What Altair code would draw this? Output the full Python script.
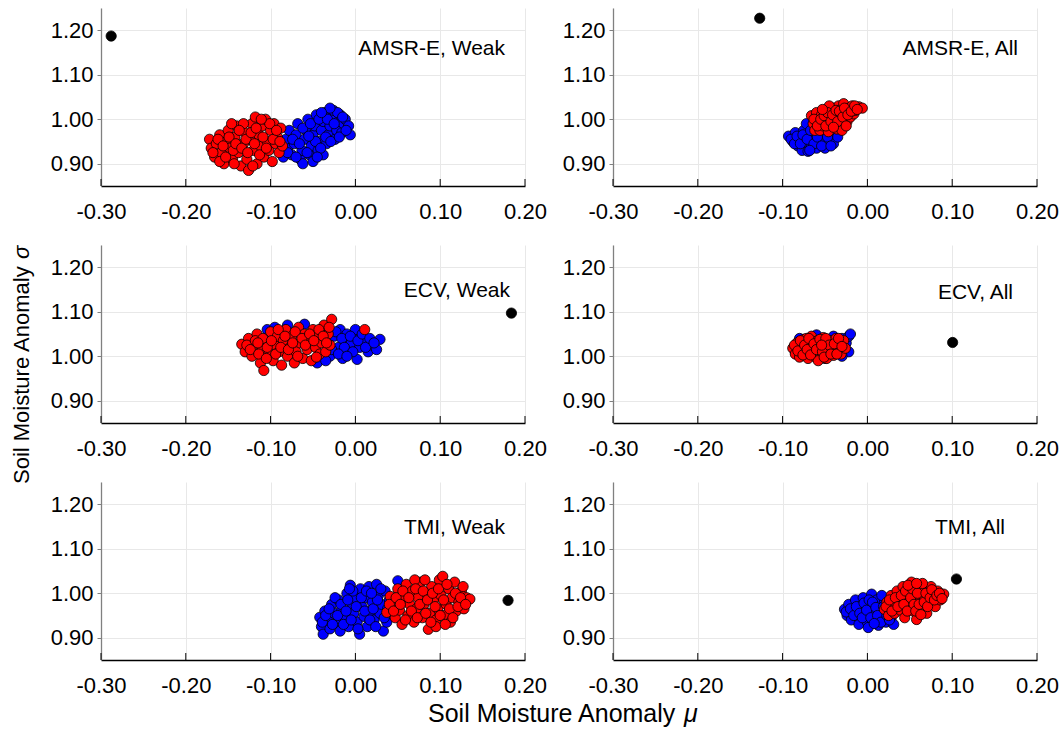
import altair as alt
import pandas as pd

PANELS = ["AMSR-E, Weak", "AMSR-E, All", "ECV, Weak", "ECV, All", "TMI, Weak", "TMI, All"]
X_TICKS = [-0.3, -0.2, -0.1, 0.0, 0.1, 0.2]
Y_TICKS = [0.9, 1.0, 1.1, 1.2]

# (mu, sigma) pairs for each ensemble cloud
amsr_weak_blue = [
    (-0.085, 0.915), (-0.080, 0.935), (-0.082, 0.955), (-0.078, 0.975), (-0.075, 0.920),
    (-0.072, 0.945), (-0.070, 0.965), (-0.068, 0.990), (-0.065, 0.910), (-0.063, 0.930),
    (-0.060, 0.955), (-0.058, 0.975), (-0.056, 1.000), (-0.054, 0.920), (-0.052, 0.940),
    (-0.050, 0.965), (-0.048, 0.985), (-0.046, 1.010), (-0.044, 0.930), (-0.042, 0.950),
    (-0.040, 0.975), (-0.038, 0.995), (-0.036, 1.015), (-0.034, 0.945), (-0.032, 0.965),
    (-0.030, 0.985), (-0.028, 1.005), (-0.026, 1.020), (-0.024, 0.955), (-0.022, 0.975),
    (-0.020, 0.995), (-0.018, 1.010), (-0.016, 0.970), (-0.014, 0.990), (-0.012, 1.000),
    (-0.008, 0.985), (-0.006, 0.965), (-0.062, 0.900), (-0.050, 0.905), (-0.038, 0.920),
    (-0.080, 0.925), (-0.074, 0.955), (-0.066, 0.945), (-0.062, 0.980), (-0.057, 0.925),
    (-0.053, 0.990), (-0.047, 0.950), (-0.043, 1.000), (-0.041, 0.935), (-0.035, 0.960),
    (-0.033, 1.000), (-0.029, 0.950), (-0.025, 0.990), (-0.021, 1.015), (-0.019, 0.960),
    (-0.015, 1.005), (-0.011, 0.975), (-0.045, 0.915), (-0.055, 0.962), (-0.070, 0.915),
    (-0.030, 1.025), (-0.040, 1.015),
]
amsr_weak_red = [
    (-0.172, 0.955), (-0.170, 0.935), (-0.166, 0.915), (-0.164, 0.945), (-0.160, 0.965),
    (-0.158, 0.925), (-0.155, 0.900), (-0.152, 0.950), (-0.150, 0.975), (-0.148, 0.935),
    (-0.145, 0.910), (-0.142, 0.960), (-0.140, 0.985), (-0.138, 0.925), (-0.135, 0.895),
    (-0.132, 0.945), (-0.130, 0.970), (-0.128, 0.910), (-0.126, 0.885), (-0.124, 0.955),
    (-0.122, 0.990), (-0.120, 0.930), (-0.118, 1.005), (-0.116, 0.900), (-0.114, 0.965),
    (-0.112, 0.940), (-0.110, 0.985), (-0.108, 0.915), (-0.106, 1.000), (-0.104, 0.950),
    (-0.102, 0.930), (-0.100, 0.975), (-0.098, 0.905), (-0.096, 0.990), (-0.094, 0.945),
    (-0.092, 0.960), (-0.090, 0.925), (-0.088, 0.980), (-0.086, 0.940), (-0.132, 0.990),
    (-0.146, 0.990), (-0.160, 0.905), (-0.168, 0.925), (-0.162, 0.955), (-0.156, 0.940),
    (-0.153, 0.915), (-0.149, 0.960), (-0.144, 0.930), (-0.141, 0.945), (-0.137, 0.975),
    (-0.134, 0.935), (-0.129, 0.955), (-0.127, 0.925), (-0.123, 0.970), (-0.119, 0.945),
    (-0.117, 0.980), (-0.113, 0.920), (-0.109, 0.960), (-0.105, 0.935), (-0.101, 0.990),
    (-0.097, 0.955), (-0.093, 0.975), (-0.089, 0.950), (-0.121, 0.895), (-0.111, 1.000),
    (-0.143, 0.900),
]
amsr_weak_black = [(-0.288, 1.187)]

amsr_all_blue = [
    (-0.093, 0.962), (-0.088, 0.950), (-0.085, 0.970), (-0.082, 0.940), (-0.080, 0.958),
    (-0.077, 0.930), (-0.075, 0.975), (-0.073, 0.948), (-0.070, 0.928), (-0.068, 0.965),
    (-0.066, 0.940), (-0.064, 0.985), (-0.062, 0.955), (-0.060, 0.935), (-0.058, 0.970),
    (-0.055, 0.945), (-0.052, 0.960), (-0.050, 0.935), (-0.048, 0.975), (-0.045, 0.950),
    (-0.042, 0.965), (-0.040, 0.945), (-0.038, 0.980), (-0.035, 0.960), (-0.072, 0.990),
    (-0.090, 0.955), (-0.086, 0.945), (-0.083, 0.962), (-0.079, 0.945), (-0.076, 0.965),
    (-0.071, 0.955), (-0.067, 0.975), (-0.063, 0.945), (-0.059, 0.960), (-0.056, 0.982),
    (-0.054, 0.940), (-0.047, 0.960), (-0.043, 0.940), (-0.068, 0.930),
]
amsr_all_red = [
    (-0.066, 1.008), (-0.064, 0.990), (-0.062, 0.975), (-0.060, 1.015), (-0.058, 0.995),
    (-0.056, 0.975), (-0.054, 1.010), (-0.052, 0.985), (-0.050, 1.020), (-0.048, 0.998),
    (-0.046, 0.972), (-0.044, 1.012), (-0.042, 0.988), (-0.040, 1.025), (-0.038, 1.000),
    (-0.036, 0.978), (-0.034, 1.030), (-0.032, 1.010), (-0.030, 0.990), (-0.028, 1.035),
    (-0.026, 1.015), (-0.024, 0.995), (-0.022, 1.025), (-0.020, 1.005), (-0.018, 1.030),
    (-0.016, 1.012), (-0.014, 1.020), (-0.010, 1.028), (-0.006, 1.025), (-0.030, 0.975),
    (-0.045, 1.030), (-0.063, 1.000), (-0.059, 0.985), (-0.055, 1.000), (-0.051, 1.008),
    (-0.049, 0.985), (-0.047, 1.015), (-0.043, 0.995), (-0.041, 1.010), (-0.037, 1.020),
    (-0.035, 0.995), (-0.033, 1.018), (-0.029, 1.005), (-0.027, 1.025), (-0.023, 1.010),
    (-0.019, 1.018), (-0.015, 1.030), (-0.012, 1.022), (-0.040, 0.982), (-0.025, 0.985),
    (-0.053, 1.022),
]
amsr_all_black = [(-0.127, 1.227)]

ecv_weak_blue = [
    (-0.104, 1.060), (-0.095, 1.065), (-0.080, 1.070), (-0.060, 1.072), (-0.040, 1.060),
    (-0.030, 1.000), (-0.025, 1.045), (-0.020, 1.020), (-0.018, 1.060), (-0.015, 0.995),
    (-0.012, 1.035), (-0.010, 1.050), (-0.008, 1.010), (-0.005, 1.030), (0.000, 1.045),
    (0.002, 0.993), (0.005, 1.020), (0.010, 1.035), (0.015, 1.010), (0.020, 1.025),
    (0.029, 1.038), (-0.045, 0.985), (-0.035, 0.990), (0.000, 1.060), (0.025, 1.015),
    (-0.028, 1.015), (-0.023, 1.055), (-0.016, 1.040), (-0.013, 1.020), (-0.006, 1.045),
    (-0.003, 1.010), (0.003, 1.035), (0.008, 1.050), (0.012, 1.020), (0.017, 1.040),
    (0.022, 1.030), (-0.020, 1.005), (-0.010, 1.000),
]
ecv_weak_red = [
    (-0.134, 1.027), (-0.130, 1.010), (-0.126, 1.040), (-0.122, 1.000), (-0.120, 1.025),
    (-0.116, 1.050), (-0.112, 0.985), (-0.110, 1.015), (-0.108, 0.968), (-0.106, 1.035),
    (-0.102, 1.005), (-0.100, 1.055), (-0.097, 0.990), (-0.095, 1.025), (-0.092, 1.045),
    (-0.090, 1.010), (-0.087, 0.980), (-0.085, 1.035), (-0.082, 1.060), (-0.080, 1.000),
    (-0.077, 1.020), (-0.075, 1.045), (-0.072, 0.985), (-0.070, 1.010), (-0.067, 1.065),
    (-0.065, 1.030), (-0.062, 0.995), (-0.060, 1.050), (-0.057, 1.015), (-0.055, 1.035),
    (-0.052, 0.990), (-0.050, 1.060), (-0.047, 1.020), (-0.045, 1.045), (-0.042, 1.005),
    (-0.040, 1.030), (-0.037, 1.070), (-0.035, 1.010), (-0.032, 1.050), (-0.028, 1.083),
    (-0.030, 1.025), (0.011, 1.060), (-0.128, 1.025), (-0.124, 1.015), (-0.118, 1.035),
    (-0.114, 1.005), (-0.109, 1.040), (-0.104, 1.020), (-0.099, 1.035), (-0.094, 1.005),
    (-0.091, 1.060), (-0.088, 1.020), (-0.083, 1.045), (-0.079, 1.015), (-0.074, 1.030),
    (-0.071, 1.055), (-0.068, 1.000), (-0.063, 1.040), (-0.059, 1.025), (-0.054, 1.050),
    (-0.049, 1.035), (-0.046, 0.998), (-0.043, 1.060), (-0.038, 1.045), (-0.034, 1.030),
    (-0.031, 1.065), (-0.105, 0.995), (-0.115, 1.030),
]
ecv_weak_black = [(0.184, 1.097)]

ecv_all_blue = [
    (-0.080, 1.040), (-0.060, 1.048), (-0.040, 1.045), (-0.030, 1.040), (-0.025, 1.030),
    (-0.022, 1.045), (-0.020, 1.050), (-0.022, 1.010), (-0.030, 1.000), (-0.050, 0.995),
    (-0.070, 1.000), (-0.085, 1.010),
]
ecv_all_red = [
    (-0.088, 1.018), (-0.085, 1.005), (-0.083, 1.030), (-0.080, 0.998), (-0.078, 1.020),
    (-0.075, 1.038), (-0.073, 1.008), (-0.070, 0.995), (-0.068, 1.028), (-0.066, 1.045),
    (-0.064, 1.012), (-0.061, 0.998), (-0.059, 1.035), (-0.057, 1.020), (-0.055, 1.003),
    (-0.052, 1.042), (-0.050, 1.025), (-0.048, 0.995), (-0.046, 1.012), (-0.044, 1.035),
    (-0.042, 1.020), (-0.040, 1.002), (-0.037, 1.040), (-0.035, 1.015), (-0.033, 1.028),
    (-0.031, 1.005), (-0.028, 1.035), (-0.026, 1.018), (-0.058, 0.990), (-0.072, 1.040),
    (-0.086, 1.025), (-0.082, 1.012), (-0.079, 1.035), (-0.076, 1.003), (-0.074, 1.025),
    (-0.071, 1.015), (-0.069, 1.040), (-0.067, 1.003), (-0.063, 1.028), (-0.060, 1.015),
    (-0.056, 1.038), (-0.053, 1.010), (-0.051, 0.998), (-0.049, 1.040), (-0.045, 1.025),
    (-0.043, 1.005), (-0.039, 1.028), (-0.036, 1.005), (-0.034, 1.040), (-0.030, 1.022),
    (-0.054, 1.025),
]
ecv_all_black = [(0.1005, 1.031)]

tmi_weak_blue = [
    (-0.042, 0.946), (-0.040, 0.925), (-0.038, 0.908), (-0.036, 0.960), (-0.033, 0.940),
    (-0.030, 0.920), (-0.028, 0.975), (-0.025, 0.955), (-0.022, 0.935), (-0.020, 0.985),
    (-0.018, 0.915), (-0.016, 0.965), (-0.013, 0.945), (-0.010, 1.000), (-0.008, 0.925),
    (-0.006, 1.018), (-0.004, 0.975), (-0.002, 0.955), (0.000, 0.990), (0.002, 0.935),
    (0.005, 0.908), (0.006, 1.010), (0.008, 0.970), (0.010, 0.948), (0.012, 0.990),
    (0.014, 0.925), (0.016, 1.015), (0.018, 0.960), (0.020, 0.980), (0.022, 0.940),
    (0.025, 1.020), (0.027, 0.995), (0.029, 0.955), (0.031, 0.975), (0.033, 0.915),
    (0.035, 1.005), (0.037, 0.935), (0.040, 0.985), (0.050, 1.028), (0.045, 0.950),
    (-0.039, 0.935), (-0.035, 0.950), (-0.031, 0.965), (-0.027, 0.930), (-0.024, 0.990),
    (-0.021, 0.950), (-0.017, 0.975), (-0.014, 0.930), (-0.011, 0.960), (-0.009, 0.985),
    (-0.005, 0.940), (-0.003, 1.005), (0.001, 0.970), (0.003, 0.920), (0.007, 0.990),
    (0.011, 0.960), (0.013, 1.005), (0.017, 0.940), (0.021, 0.965), (0.024, 0.925),
    (0.026, 0.985), (0.030, 1.010), (0.034, 0.945), (0.038, 0.965), (-0.007, 1.010),
    (0.019, 1.000),
]
tmi_weak_red = [
    (0.037, 0.957), (0.041, 0.993), (0.044, 0.975), (0.047, 0.945), (0.050, 1.010),
    (0.052, 0.962), (0.055, 0.930), (0.057, 0.990), (0.060, 1.020), (0.062, 0.950),
    (0.064, 0.975), (0.067, 1.005), (0.069, 0.935), (0.072, 0.965), (0.074, 0.990),
    (0.077, 1.025), (0.079, 0.945), (0.081, 0.975), (0.084, 1.000), (0.086, 0.919),
    (0.088, 0.955), (0.090, 1.015), (0.092, 0.985), (0.095, 0.940), (0.097, 0.965),
    (0.099, 1.030), (0.101, 0.995), (0.103, 1.038), (0.105, 0.950), (0.107, 0.975),
    (0.110, 1.010), (0.112, 0.935), (0.114, 0.990), (0.117, 1.025), (0.119, 0.960),
    (0.122, 0.980), (0.125, 1.005), (0.128, 0.965), (0.131, 0.990), (0.135, 0.987),
    (0.070, 1.030), (0.095, 0.925), (0.040, 0.975), (0.045, 0.960), (0.048, 0.990),
    (0.053, 0.975), (0.056, 1.005), (0.059, 0.940), (0.063, 0.990), (0.066, 0.960),
    (0.071, 1.010), (0.073, 0.945), (0.076, 0.975), (0.080, 1.005), (0.083, 0.955),
    (0.085, 0.985), (0.089, 0.935), (0.091, 1.000), (0.094, 0.970), (0.098, 1.010),
    (0.100, 0.950), (0.104, 0.985), (0.108, 1.020), (0.111, 0.965), (0.115, 0.945),
    (0.118, 1.000), (0.121, 0.970), (0.124, 0.990), (0.127, 1.015), (0.130, 0.975),
    (0.082, 1.030), (0.106, 0.930),
]
tmi_weak_black = [(0.180, 0.984)]

tmi_all_blue = [
    (-0.027, 0.964), (-0.024, 0.950), (-0.022, 0.975), (-0.019, 0.940), (-0.017, 0.962),
    (-0.014, 0.985), (-0.012, 0.948), (-0.010, 0.930), (-0.008, 0.970), (-0.005, 0.990),
    (-0.003, 0.955), (0.000, 0.935), (0.001, 0.923), (0.003, 0.975), (0.005, 0.998),
    (0.007, 0.960), (0.009, 0.942), (0.011, 0.985), (0.013, 0.928), (0.015, 0.965),
    (0.018, 0.950), (0.020, 0.980), (0.022, 0.935), (0.025, 0.960), (0.028, 0.945),
    (0.031, 0.930), (0.017, 0.995), (-0.025, 0.958), (-0.020, 0.965), (-0.016, 0.950),
    (-0.013, 0.970), (-0.009, 0.955), (-0.006, 0.945), (-0.004, 0.978), (-0.001, 0.962),
    (0.002, 0.985), (0.004, 0.945), (0.006, 0.980), (0.010, 0.968), (0.012, 0.950),
    (0.016, 0.935), (0.019, 0.970), (0.023, 0.950), (0.026, 0.940), (0.008, 0.932),
]
tmi_all_red = [
    (0.020, 0.964), (0.023, 0.980), (0.025, 0.950), (0.028, 0.995), (0.030, 0.970),
    (0.032, 0.955), (0.035, 1.005), (0.037, 0.985), (0.039, 0.962), (0.042, 1.015),
    (0.044, 0.945), (0.046, 0.995), (0.048, 0.975), (0.050, 1.020), (0.052, 1.025),
    (0.054, 0.960), (0.056, 1.005), (0.058, 0.941), (0.060, 0.985), (0.062, 1.015),
    (0.064, 0.968), (0.066, 0.995), (0.068, 1.010), (0.070, 0.955), (0.072, 0.980),
    (0.075, 1.015), (0.077, 0.995), (0.080, 0.970), (0.083, 1.005), (0.086, 0.985),
    (0.090, 0.998), (0.065, 1.022), (0.022, 0.970), (0.026, 0.985), (0.029, 0.960),
    (0.033, 0.990), (0.036, 0.970), (0.040, 0.995), (0.043, 0.975), (0.045, 1.005),
    (0.047, 0.960), (0.051, 0.990), (0.053, 1.010), (0.055, 0.975), (0.057, 0.960),
    (0.059, 1.000), (0.061, 0.975), (0.063, 0.952), (0.067, 0.980), (0.069, 1.000),
    (0.071, 0.970), (0.074, 0.990), (0.076, 1.008), (0.079, 0.985), (0.082, 0.995),
    (0.085, 1.000), (0.088, 0.988), (0.048, 1.018), (0.058, 1.022),
]
tmi_all_black = [(0.105, 1.032)]

SERIES = {
    "AMSR-E, Weak": (amsr_weak_blue, amsr_weak_red, amsr_weak_black),
    "AMSR-E, All": (amsr_all_blue, amsr_all_red, amsr_all_black),
    "ECV, Weak": (ecv_weak_blue, ecv_weak_red, ecv_weak_black),
    "ECV, All": (ecv_all_blue, ecv_all_red, ecv_all_black),
    "TMI, Weak": (tmi_weak_blue, tmi_weak_red, tmi_weak_black),
    "TMI, All": (tmi_all_blue, tmi_all_red, tmi_all_black),
}

rows = []
for name, groups in SERIES.items():
    for group, pts in zip(["blue", "red", "black"], groups):
        for mu, sigma in pts:
            rows.append({"panel": name, "group": group, "mu": mu, "sigma": sigma})
df = pd.DataFrame(rows)

# panel label anchor (right edge, vertical centre) in pixels inside each plot
LABEL_POS = {
    "AMSR-E, Weak": (404, 41), "AMSR-E, All": (405, 41),
    "ECV, Weak": (409, 46), "ECV, All": (400, 48),
    "TMI, Weak": (404, 46), "TMI, All": (392, 46),
}

W, H = 424, 178
FONT = "Liberation Sans"
X_LABELS = "(datum.value < -1e-9 ? '-' : '') + format(abs(datum.value), '.2f')"
AXIS_NAME = "Soil Moisture Anomaly"


def text_layer(txt, x, y, size, angle=0, italic=False, align="left"):
    kw = dict(align=align, baseline="middle", fontSize=size, font=FONT, color="black")
    if angle:
        kw["angle"] = angle
    if italic:
        kw["fontStyle"] = "italic"
    return alt.Chart(pd.DataFrame({"t": [txt]})).mark_text(**kw).encode(
        x=alt.value(x), y=alt.value(y), text="t:N"
    )


def make_panel(name):
    x_kwargs = dict(values=X_TICKS, labelExpr=X_LABELS, ticks=False, labelPadding=15,
                    labelFlush=False, labelOverlap=False,
                    domainColor="black", domainWidth=1.3, title=None)
    y_kwargs = dict(values=Y_TICKS, format=".2f", tickSize=4, labelPadding=4,
                    labelFlush=False, labelOverlap=False,
                    tickColor="#808080", domainColor="#808080", domainWidth=1.3, title=None)

    xenc = alt.X("mu:Q", scale=alt.Scale(domain=[-0.3, 0.2], nice=False, zero=False),
                 axis=alt.Axis(**x_kwargs))
    yenc = alt.Y("sigma:Q", scale=alt.Scale(domain=[0.85, 1.25], nice=False, zero=False),
                 axis=alt.Axis(**y_kwargs))

    pts = alt.Chart(df[df["panel"] == name]).mark_circle(
        size=105, opacity=1, stroke="black", strokeWidth=0.8
    ).encode(
        x=xenc,
        y=yenc,
        color=alt.Color("group:N", legend=None,
                        scale=alt.Scale(domain=["blue", "red", "black"],
                                        range=["#0000ff", "#ff0000", "#000000"])),
    )

    ticks = alt.Chart(pd.DataFrame({"mu": X_TICKS})).mark_rule(
        color="black", strokeWidth=1
    ).encode(x=xenc, y=alt.value(H), y2=alt.value(H - 7))

    lx, ly = LABEL_POS[name]
    layers = [ticks, pts, text_layer(name, lx, ly, 21, align="right")]

    # shared axis titles, with the symbol set in italics
    if name == "TMI, Weak":
        layers.append(text_layer(AXIS_NAME, 327, 232, 25))
        layers.append(text_layer("μ", 583, 232, 25, italic=True))
    if name == "ECV, Weak":
        layers.append(text_layer(AXIS_NAME, -79, 239, 22, angle=270))
        layers.append(text_layer("σ", -79, 14, 22, angle=270, italic=True))

    return alt.layer(*layers).properties(width=W, height=H)


chart = alt.concat(
    *[make_panel(p) for p in PANELS],
    columns=2,
    spacing={"row": 59, "column": 88},
    bounds="flush",
).properties(
    padding={"left": 10, "top": 8, "right": 0, "bottom": 2}
).configure_view(
    stroke=None
).configure_axis(
    labelFont=FONT, labelFontSize=22, labelColor="black",
    gridColor="#e8e8e8", gridWidth=1,
)

chart.save("out.html", embed_options={"renderer": "svg", "actions": False})
